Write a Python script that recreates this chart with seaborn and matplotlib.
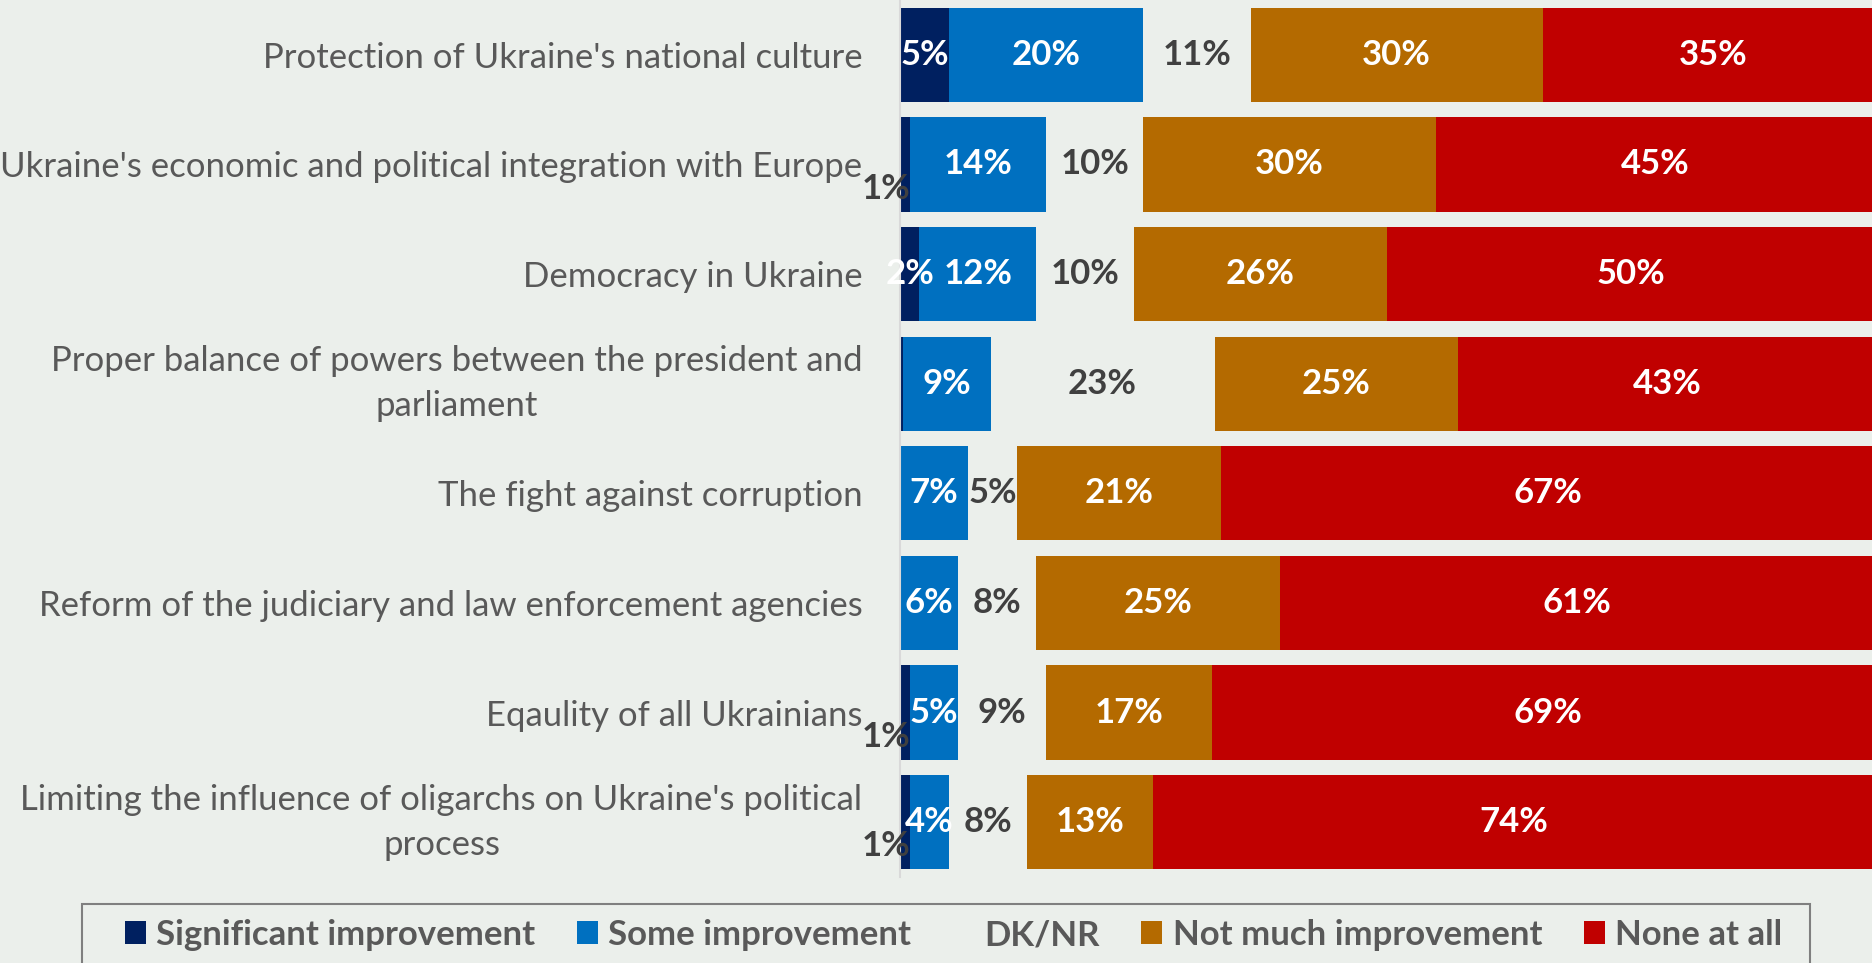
import numpy as np
import pandas as pd
import matplotlib
matplotlib.use('Agg')
import matplotlib.pyplot as plt
import seaborn as sns
from matplotlib.patches import Patch, Rectangle

categories = [
    "Protection of Ukraine's national culture",
    "Ukraine's economic and political integration with Europe",
    "Democracy in Ukraine",
    "Proper balance of powers between the president and\nparliament",
    "The fight against corruption",
    "Reform of the judiciary and law enforcement agencies",
    "Eqaulity of all Ukrainians",
    "Limiting the influence of oligarchs on Ukraine's political\nprocess",
]
significant = [5, 1, 2, 0.3, 0, 0, 1, 1]
some = [20, 14, 12, 9, 7, 6, 5, 4]
dknr = [11, 10, 10, 23, 5, 8, 9, 8]
not_much = [30, 30, 26, 25, 21, 25, 17, 13]
none_at_all = [35, 45, 50, 43, 67, 61, 69, 74]

series_names = ['Significant improvement', 'Some improvement', 'DK/NR',
                'Not much improvement', 'None at all']
bg = '#EBEFEB'
colors = ['#002060', '#0070C0', bg, '#B46A00', '#C00000']

sns.set_theme(style='white')
plt.rcParams['font.family'] = ['Lato', 'DejaVu Sans']
FS = 25

df = pd.DataFrame({'cat': categories, 'Significant improvement': significant,
                   'Some improvement': some, 'DK/NR': dknr,
                   'Not much improvement': not_much, 'None at all': none_at_all})
cum = df[series_names].cumsum(axis=1)

fig = plt.figure(figsize=(18.72, 9.63), dpi=100, facecolor=bg)
ax = fig.add_axes([900 / 1872, 1 - 877 / 963, 1 - 900 / 1872, 877 / 963])
ax.set_facecolor(bg)

# overlay cumulative bars, longest first
for name, col in reversed(list(zip(series_names, colors))):
    sns.barplot(x=cum[name], y=df['cat'], orient='h', color=col, saturation=1,
                width=0.86, linewidth=0, ax=ax)

ax.set_xlim(0, 99.8)
ax.set_ylim(7.5, -0.5)
ax.set_xlabel('')
ax.set_ylabel('')
ax.set_xticks([])
for s in ['top', 'right', 'bottom']:
    ax.spines[s].set_visible(False)
ax.spines['left'].set_color('#D9D9D9')
ax.spines['left'].set_linewidth(1.5)
ax.tick_params(axis='y', length=0, pad=27, labelsize=FS, labelcolor='#595959')
for t in ax.get_yticklabels():
    t.set_multialignment('center')
    t.set_linespacing(1.5)
    if '\n' in t.get_text():
        t.set_verticalalignment('center')

# value labels
for i in range(len(categories)):
    start = 0
    for j, name in enumerate(series_names):
        v = df.loc[i, name]
        if v >= 0.5:
            mid = start + v / 2
            if name == 'DK/NR':
                ax.text(mid, i, f'{v:g}%', ha='center', va='center', fontsize=FS,
                        fontweight='bold', color='#404040')
            elif v < 2 and name == 'Significant improvement':
                ax.text(start + v + 0.1, i + 0.22, f'{v:g}%', ha='right', va='center',
                        fontsize=FS, fontweight='bold', color='#404040', clip_on=False)
            else:
                ax.text(mid, i, f'{v:g}%', ha='center', va='center', fontsize=FS,
                        fontweight='bold', color='white')
        start += v

# legend box drawn separately, running past the bottom edge
fig.patches.append(Rectangle((82 / 1872, -0.05), (1810 - 82) / 1872, 0.05 + 1 - 904 / 963,
                             transform=fig.transFigure, facecolor=bg,
                             edgecolor='#7F7F7F', linewidth=1.5))
handles = [Patch(facecolor=c, edgecolor='none') for c in colors]
leg = fig.legend(handles, series_names, loc='center left', ncol=5,
                 bbox_to_anchor=(125 / 1872, 1 - 935 / 963),
                 frameon=False, handlelength=0.6, handleheight=0.65,
                 handletextpad=0.3, columnspacing=1.2, borderpad=0,
                 borderaxespad=0, prop={'weight': 'bold', 'size': FS})
for t in leg.get_texts():
    t.set_color('#595959')

fig.savefig('out.png', dpi=100, facecolor=bg)
